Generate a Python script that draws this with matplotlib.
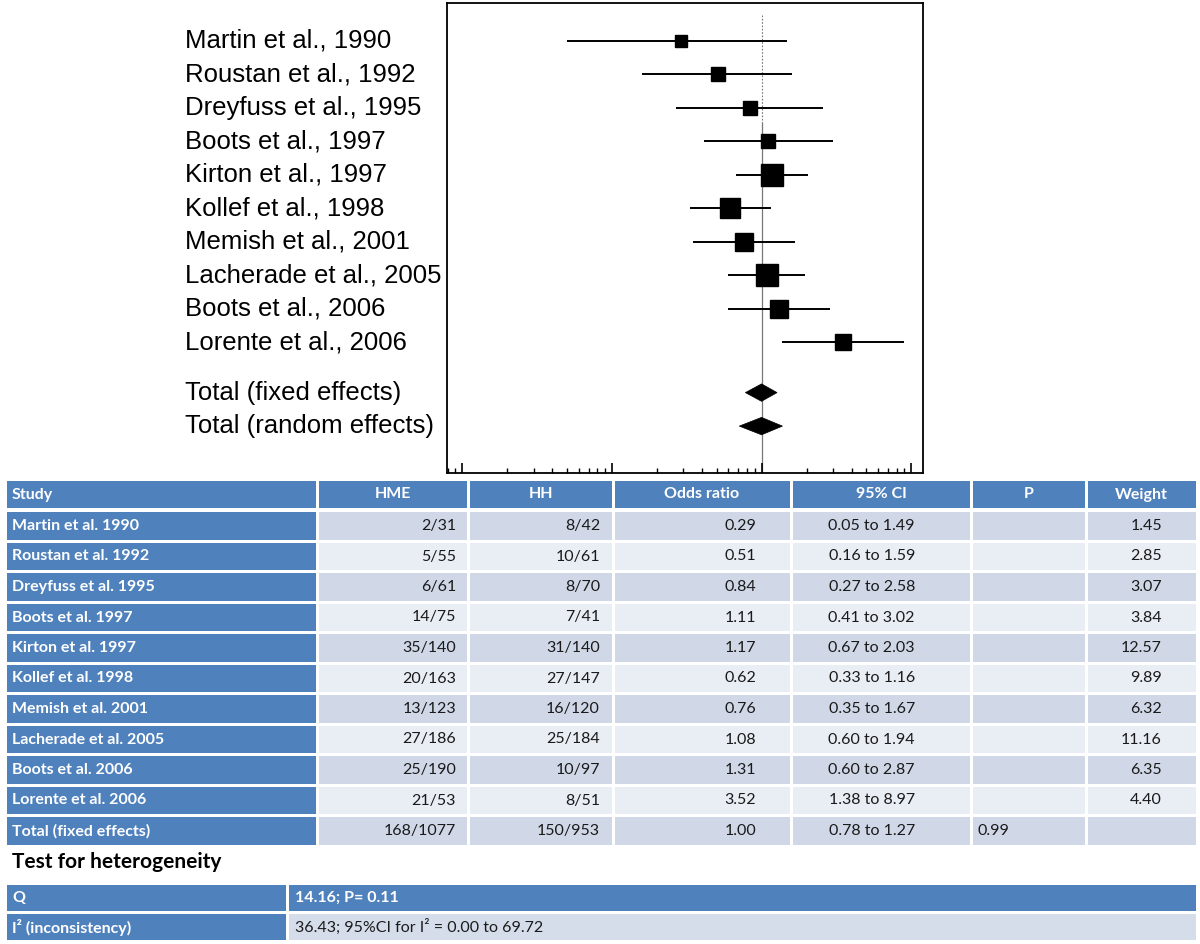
import numpy as np
import matplotlib
matplotlib.use("Agg")
from matplotlib import pyplot as plt
from matplotlib import transforms
from matplotlib.patches import Rectangle, Polygon
from matplotlib.ticker import LogLocator, NullFormatter

studies = ["Martin et al., 1990", "Roustan et al., 1992", "Dreyfuss et al., 1995",
           "Boots et al., 1997", "Kirton et al., 1997", "Kollef et al., 1998",
           "Memish et al., 2001", "Lacherade et al., 2005", "Boots et al., 2006",
           "Lorente et al., 2006"]
hme = ["2/31", "5/55", "6/61", "14/75", "35/140", "20/163", "13/123", "27/186", "25/190", "21/53"]
hh = ["8/42", "10/61", "8/70", "7/41", "31/140", "27/147", "16/120", "25/184", "10/97", "8/51"]
odds = [0.29, 0.51, 0.84, 1.11, 1.17, 0.62, 0.76, 1.08, 1.31, 3.52]
ci_lo = [0.05, 0.16, 0.27, 0.41, 0.67, 0.33, 0.35, 0.60, 0.60, 1.38]
ci_hi = [1.49, 1.59, 2.58, 3.02, 2.03, 1.16, 1.67, 1.94, 2.87, 8.97]
weight = [1.45, 2.85, 3.07, 3.84, 12.57, 9.89, 6.32, 11.16, 6.35, 4.40]

fixed_hme, fixed_hh = "168/1077", "150/953"
fixed_or, fixed_lo, fixed_hi, fixed_p = 1.00, 0.78, 1.27, 0.99
random_or, random_lo, random_hi = 1.00, 0.71, 1.38

q_value, q_p = 14.16, 0.11
i2_value, i2_lo, i2_hi = 36.43, 0.00, 69.72

headers = ["Study", "HME", "HH", "Odds ratio", "95% CI", "P", "Weight"]

BLUE = "#4F81BD"
DARK = "#D0D8E8"
LIGHT = "#E9EDF4"

W, H = 1200, 944
fig = plt.figure(figsize=(W / 100, H / 100), dpi=100)

# forest plot
ax = fig.add_axes([447 / W, 1 - 473 / H, (923 - 447) / W, (473 - 3) / H])
ax.set_xscale("log")
ax.set_xlim(0.0079, 12)
ax.set_ylim(12.9, -1.13)
rows = np.arange(len(studies))
y_fixed, y_random = len(studies) + 0.5, len(studies) + 1.5

# line of no effect, dotted near the top like the original
ax.plot([1, 1], [-0.78, 2.45], color="#777777", lw=0.8, ls=(0, (1.5, 1.5)), zorder=0.5)
ax.plot([1, 1], [2.45, 12.9], color="#777777", lw=0.9, zorder=0.5)

for y, o, lo, hi, w in zip(rows, odds, ci_lo, ci_hi, weight):
    ax.plot([lo, hi], [y, y], color="black", lw=1.4, solid_capstyle="butt", zorder=2)
    size_px = 4.9 + 5.1 * np.sqrt(w)
    ax.plot(o, y, marker="s", ms=size_px * 0.72, color="black", mec="black", zorder=3)

for y, o, lo, hi in [(y_fixed, fixed_or, fixed_lo, fixed_hi),
                     (y_random, random_or, random_lo, random_hi)]:
    ax.add_patch(Polygon([(lo, y), (o, y - 0.26), (hi, y), (o, y + 0.26)],
                         closed=True, facecolor="black", edgecolor="black", lw=0.5, zorder=3))

ax.xaxis.set_major_locator(LogLocator(base=10, numticks=10))
ax.xaxis.set_minor_locator(LogLocator(base=10, subs=np.arange(2, 10), numticks=20))
ax.xaxis.set_major_formatter(NullFormatter())
ax.xaxis.set_minor_formatter(NullFormatter())
ax.tick_params(axis="x", which="major", direction="in", length=7.5, width=1.2)
ax.tick_params(axis="x", which="minor", direction="in", length=3.5, width=1.0)
ax.set_yticks([])
for s in ax.spines.values():
    s.set_linewidth(1.3)

lab_tr = transforms.blended_transform_factory(fig.transFigure, ax.transData)
labels = studies + ["Total (fixed effects)", "Total (random effects)"]
label_y = list(rows) + [y_fixed, y_random]
for lab, y in zip(labels, label_y):
    fig.text(185 / W, y, lab, transform=lab_tr, ha="left", va="center",
             fontsize=18.5, family="Liberation Sans")

# table below the plot
tab = fig.add_axes([0, 0, 1, 1])
tab.set_xlim(0, W)
tab.set_ylim(H, 0)
tab.axis("off")

col_edges = [5, 317, 468, 613, 791, 971, 1086, 1197]
right_pos = [None, 456, 600, 756, 915, None, 1162]
gap = 1.5
tfont = "Lato"
fs = 11.5


def cell(x0, x1, yc, h, color):
    tab.add_patch(Rectangle((x0 + gap, yc - h / 2), x1 - x0 - 2 * gap, h,
                            facecolor=color, edgecolor="none"))


hy = 494.5
for j, name in enumerate(headers):
    cell(col_edges[j], col_edges[j + 1], hy, 27, BLUE)
    if j == 0:
        tab.text(12, hy, name, ha="left", va="center", color="white",
                 fontsize=fs, fontweight="bold", family=tfont)
    else:
        tab.text((col_edges[j] + col_edges[j + 1]) / 2, hy, name, ha="center",
                 va="center", color="white", fontsize=fs, fontweight="bold", family=tfont)

body = []
for i in range(len(studies)):
    body.append([studies[i].replace(",", ""), hme[i], hh[i], f"{odds[i]:.2f}",
                 f"{ci_lo[i]:.2f} to {ci_hi[i]:.2f}", "", f"{weight[i]:.2f}"])
body.append(["Total (fixed effects)", fixed_hme, fixed_hh, f"{fixed_or:.2f}",
             f"{fixed_lo:.2f} to {fixed_hi:.2f}", f"{fixed_p:.2f}", ""])

for i, row in enumerate(body):
    yc = 526 + 30.5 * i
    shade = DARK if i % 2 == 0 else LIGHT
    for j, val in enumerate(row):
        cell(col_edges[j], col_edges[j + 1], yc, 27.5, BLUE if j == 0 else shade)
        if j == 0:
            tab.text(12, yc, val, ha="left", va="center", color="white",
                     fontsize=fs, fontweight="bold", family=tfont)
        elif j == 5:
            tab.text(978, yc, val, ha="left", va="center", color="#1a1a1a",
                     fontsize=fs, family=tfont)
        else:
            tab.text(right_pos[j], yc, val, ha="right", va="center", color="#1a1a1a",
                     fontsize=fs, family=tfont)

tab.text(12, 862, "Test for heterogeneity", ha="left", va="center", color="black",
         fontsize=15, fontweight="bold", family=tfont)

het_edges = [5, 287, 1197]
cell(het_edges[0], het_edges[1], 898, 26, BLUE)
cell(het_edges[1], het_edges[2], 898, 26, BLUE)
tab.text(12, 898, "Q", ha="left", va="center", color="white", fontsize=fs,
         fontweight="bold", family=tfont)
tab.text(295, 898, f"{q_value:.2f}; P= {q_p:.2f}", ha="left", va="center",
         color="white", fontsize=fs, fontweight="bold", family=tfont)

cell(het_edges[0], het_edges[1], 927, 26, BLUE)
cell(het_edges[1], het_edges[2], 927, 26, "#D6DDEA")
tab.text(12, 927, "I² (inconsistency)", ha="left", va="center", color="white",
         fontsize=fs, fontweight="bold", family=tfont)
tab.text(295, 927, f"{i2_value:.2f}; 95%CI for I² = {i2_lo:.2f} to {i2_hi:.2f}",
         ha="left", va="center", color="#1a1a1a", fontsize=fs, family=tfont)

fig.savefig("out.png", dpi=100)
